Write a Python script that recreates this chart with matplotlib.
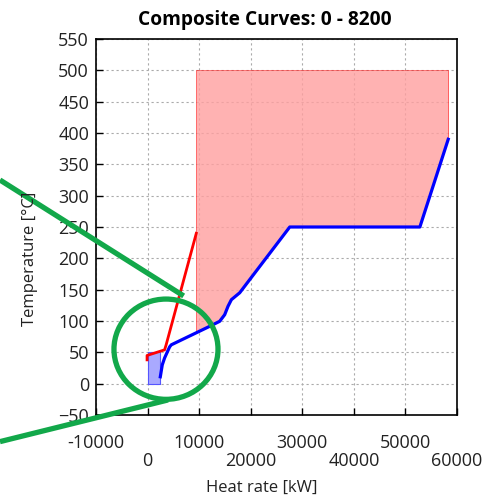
import matplotlib.pyplot as plt
import numpy as np
from matplotlib.patches import Ellipse

plt.rcParams['font.family'] = ['Open Sans', 'DejaVu Sans']

# hot composite curve (kW, degC)
hot_q = [-100, -100, 3300, 3600, 9450]
hot_t = [38, 45, 54, 62, 240]

# cold composite curve (kW, degC)
cold_q = [2470, 2850, 3300, 4270, 4600, 12040, 13980, 14950, 15600, 16250, 17860,
          27570, 52800, 58300]
cold_t = [11, 30, 41, 58.6, 62, 91.5, 99.5, 110, 123.5, 134, 145, 250, 250, 390]

# shaded heat recovery region
pink_left = 9400
pink_right = 58300
pink_top = 500

# small utility box near origin
box_q = [0, 2460]
box_t = [0, 50]

xticks_upper = [-10000, 10000, 30000, 50000]
xticks_lower = [0, 20000, 40000, 60000]
yticks = list(range(-50, 551, 50))

fig = plt.figure(figsize=(4.92, 4.99), dpi=100)
ax = fig.add_axes([96/492, 1-415/499, 361/492, 376/499])

# pink area between cold curve and the 500 degC line
q_fill = np.concatenate([[pink_left], [q for q in cold_q if pink_left < q <= pink_right]])
t_fill = np.interp(q_fill, cold_q, cold_t)
ax.fill_between(q_fill, t_fill, pink_top, color='#ff9f9f', alpha=0.8, lw=0, zorder=1)
ax.plot([pink_left, pink_left, pink_right, pink_right],
        [np.interp(pink_left, cold_q, cold_t), pink_top, pink_top, cold_t[-1]],
        color='red', lw=0.6, alpha=0.6, zorder=1)

ax.fill_between(box_q, box_t[0], box_t[1], color='#a0a0ff', alpha=0.9, lw=0, zorder=2)
ax.plot([box_q[0], box_q[0], box_q[1], box_q[1], box_q[0]],
        [box_t[0], box_t[1], box_t[1], box_t[0], box_t[0]], color='#5555ff', lw=0.8, zorder=2)

ax.plot(hot_q, hot_t, color='red', lw=2, zorder=3)
ax.plot(cold_q, cold_t, color='blue', lw=2.3, zorder=3)

ax.set_xlim(-10000, 60000)
ax.set_ylim(-50, 550)
# staggered x labels: two rows using major/minor ticks
ax.set_xticks(xticks_upper)
ax.set_xticklabels([str(v) for v in xticks_upper])
ax.set_xticks(xticks_lower, minor=True)
ax.set_xticklabels([str(v) for v in xticks_lower], minor=True)
ax.set_yticks(yticks)
ax.tick_params(direction='in', length=5, width=1, labelsize=13, labelcolor='#222222')
ax.tick_params(axis='x', which='major', pad=14)
ax.tick_params(axis='x', which='minor', direction='in', length=5, width=1,
               labelsize=13, labelcolor='#222222', pad=27)
ax.tick_params(axis='y', pad=5)
ax.grid(True, which='both', axis='x', color='#aaaaaa', linestyle=(0, (2, 2.5)), lw=0.8)
ax.grid(True, axis='y', color='#aaaaaa', linestyle=(0, (2, 2.5)), lw=0.8)
ax.set_axisbelow(True)
for s in ax.spines.values():
    s.set_linewidth(1.2)

fig.text(265/492, 1-20/499, 'Composite Curves: 0 - 8200', ha='center', va='center',
         fontsize=13.8, fontweight='bold')
fig.text(262/492, 1-488/499, 'Heat rate [kW]', ha='center', va='center', fontsize=12,
         color='#222222')
fig.text(30/492, 1-259/499, 'Temperature [°C]', ha='center', va='center', fontsize=12,
         rotation=90, color='#222222')

# zoom callout around the low temperature end
green = '#12a84a'
ax.add_patch(Ellipse((3570, 55), 20170, 160, fill=False, edgecolor=green, lw=3.8,
                     clip_on=False, zorder=5))
ax.plot([-28620, 7000], [325, 140], color=green, lw=3.8, clip_on=False, zorder=5,
        solid_capstyle='butt')
ax.plot([-28620, 3960], [-92.5, -26], color=green, lw=3.8, clip_on=False, zorder=5,
        solid_capstyle='butt')

fig.savefig('out.png', dpi=100)
